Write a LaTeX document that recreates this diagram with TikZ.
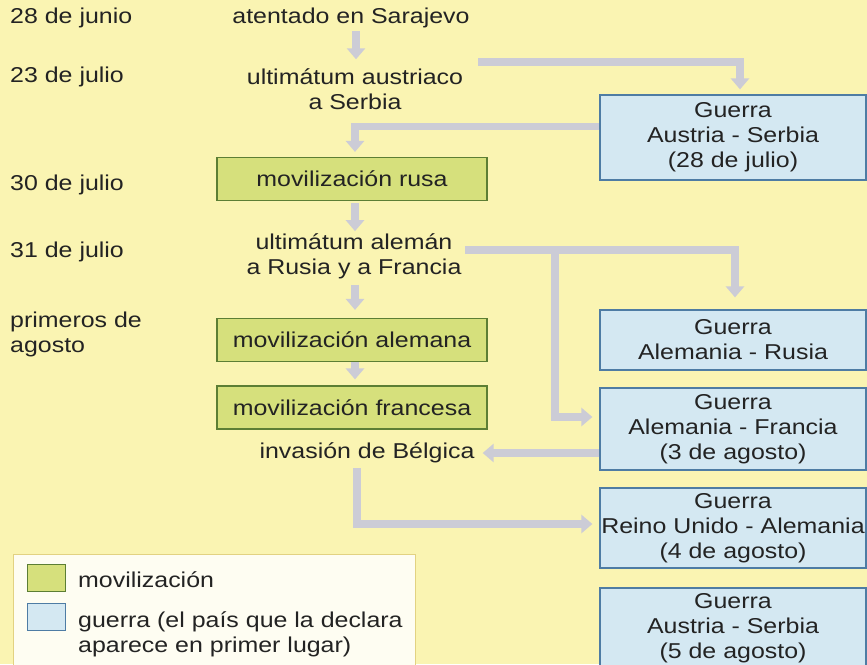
\documentclass[tikz,border=0pt]{standalone}
\usepackage{fontspec}
\setmainfont[FakeStretch=1.16]{Liberation Sans}
\usetikzlibrary{arrows.meta}
\definecolor{bg}{RGB}{250,244,178}
\definecolor{gfill}{RGB}{214,224,124}
\definecolor{gline}{RGB}{92,126,52}
\definecolor{bfill}{RGB}{212,232,242}
\definecolor{bline}{RGB}{78,124,164}
\definecolor{arrc}{RGB}{204,204,214}
\definecolor{legfill}{RGB}{254,253,242}
\definecolor{legline}{RGB}{226,210,130}
\definecolor{txt}{RGB}{35,35,35}
\begin{document}
\begin{tikzpicture}[x=1pt,y=-1pt,
  every node/.style={font=\fontsize{21.5}{25}\selectfont, text=txt, inner sep=0pt},
  lbl/.style={anchor=west, align=left},
  evt/.style={align=center},
  gbox/.style={draw=gline, fill=gfill, line width=1.2pt, minimum width=270pt, minimum height=43pt},
  bbox/.style={draw=bline, fill=bfill, line width=1.2pt, minimum width=266pt, align=center},
  arr/.style={draw=arrc, line width=7.5pt, -{Triangle[width=18pt,length=11pt]}},
  swg/.style={draw=gline, fill=gfill, line width=1pt, minimum width=38pt, minimum height=27pt},
  swb/.style={draw=bline, fill=bfill, line width=1pt, minimum width=38pt, minimum height=27pt},
]
\path[use as bounding box, fill=bg] (0,0) rectangle (867,664);
\begin{scope}
\clip (0,0) rectangle (867,664);
% dates
\node[lbl] (d1) at (10,18) {28 de junio};
\node[lbl] (d2) at (10,77) {23 de julio};
\node[lbl] (d3) at (10,185) {30 de julio};
\node[lbl] (d4) at (10,252) {31 de julio};
\node[lbl] (d5) at (10,334) {primeros de\\agosto};
% centre column
\node[evt] (sar) at (351,18) {atentado en Sarajevo};
\node[evt] (ult) at (355,89) {ultimátum austriaco\\a Serbia};
\node[gbox] (rus) at (352,179) {movilización rusa};
\node[evt] (ale) at (354,256) {ultimátum alemán\\a Rusia y a Francia};
\node[gbox] (mal) at (352,340) {movilización alemana};
\node[gbox] (mfr) at (352,407.5) {movilización francesa};
\node[evt] (bel) at (367,453) {invasión de Bélgica};
% wars
\node[bbox, minimum height=85pt] (g1) at (733,137.5) {Guerra\\Austria - Serbia\\(28 de julio)};
\node[bbox, minimum height=60pt] (g2) at (733,340) {Guerra\\Alemania - Rusia};
\node[bbox, minimum height=82pt] (g3) at (733,429) {Guerra\\Alemania - Francia\\(3 de agosto)};
\node[bbox, minimum height=80pt] (g4) at (733,528) {Guerra\\Reino Unido - Alemania\\(4 de agosto)};
\node[bbox, minimum height=80pt] (g5) at (733,628) {Guerra\\Austria - Serbia\\(5 de agosto)};
% legend
\node[draw=legline, fill=legfill, line width=0.8pt, minimum width=402pt, minimum height=130pt, anchor=north west] (leg) at (13,554) {};
\node[swg] (s1) at (46,578) {};
\node[swb] (s2) at (46,617) {};
\node[anchor=west] (l1) at (78,580) {movilización};
\node[anchor=west, align=left] (l2) at (78,634) {guerra (el país que la declara\\aparece en primer lugar)};
% arrows
\coordinate (a1) at (478,62);
\coordinate (a2) at (465,250);
\coordinate (b2) at (555,250);
\draw[arr, shorten <=3pt] ([xshift=5pt]sar.south) -- ([xshift=1pt,yshift=9pt]ult.north);
\draw[arr] (a1) -| ([xshift=7pt,yshift=5pt]g1.north);
\draw[arr] ([yshift=11pt]g1.west) -| ([xshift=3pt,yshift=5pt]rus.north);
\draw[arr, shorten <=2pt] ([xshift=3pt]rus.south) -- ([xshift=1pt,yshift=2pt]ale.north);
\draw[arr] (a2) -| ([xshift=2pt,yshift=12pt]g2.north);
\draw[arr] (b2) |- ([xshift=-7pt,yshift=12pt]g3.west);
\draw[arr, shorten <=6pt] ([xshift=1pt]ale.south) -- ([xshift=3pt,yshift=8pt]mal.north);
\draw[arr] ([xshift=3pt]mal.south) -- ([xshift=3pt,yshift=6pt]mfr.north);
\draw[arr] ([yshift=-24pt]g3.west) -- ([xshift=8pt]bel.east);
\draw[arr, shorten <=5pt] ([xshift=-10pt]bel.south) |- ([xshift=-7pt,yshift=4pt]g4.west);
\end{scope}
\end{tikzpicture}
\end{document}
